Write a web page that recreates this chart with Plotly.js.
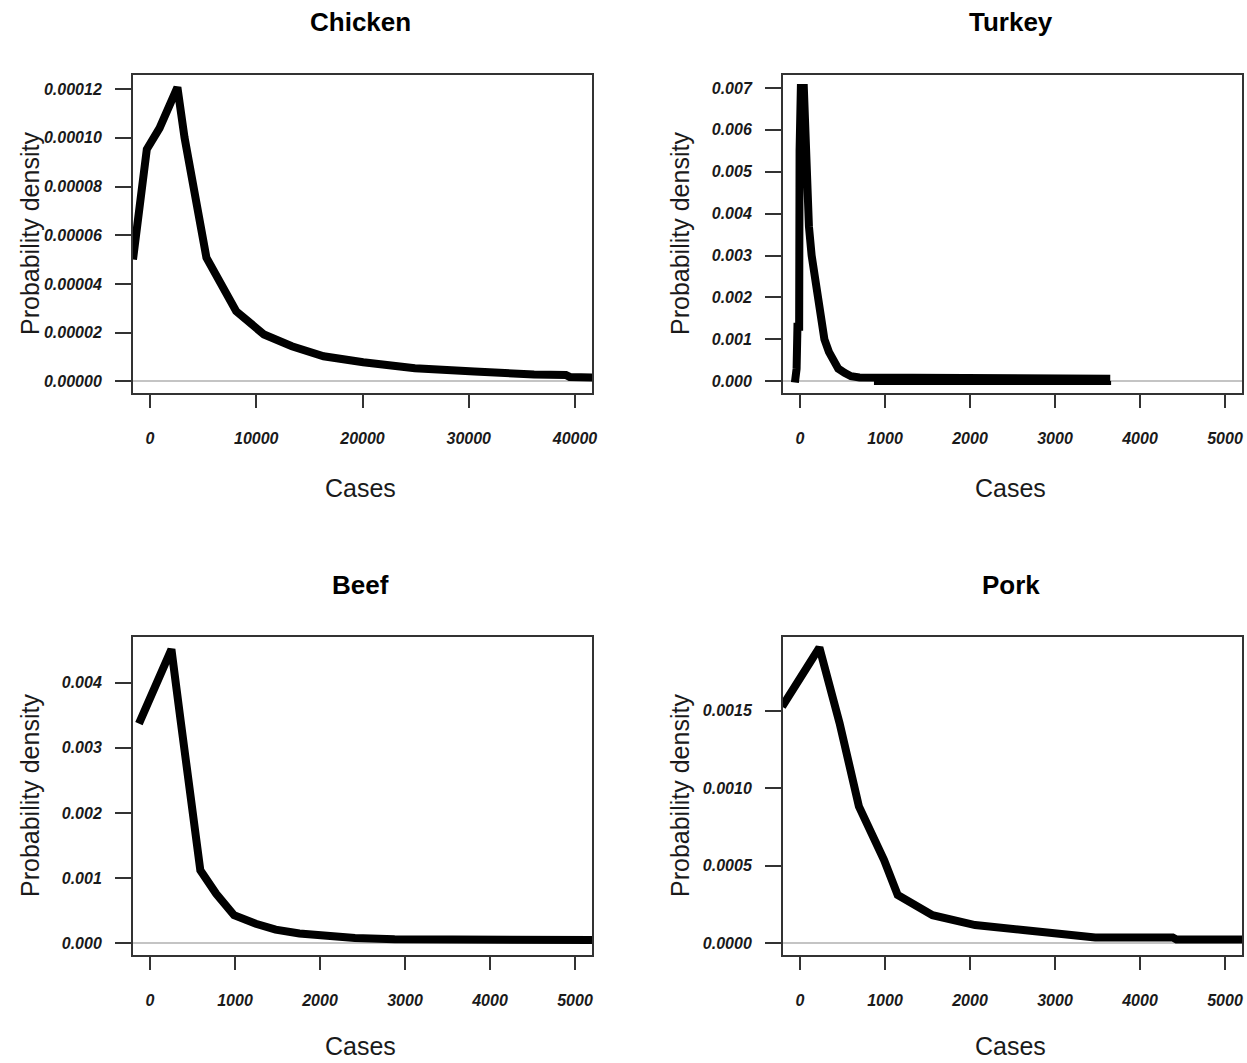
<!DOCTYPE html>
<html>
<head>
<meta charset="utf-8">
<script src="https://cdn.plot.ly/plotly-3.0.1.min.js"></script>
<style>
  html, body { margin: 0; padding: 0; background: #ffffff; }
  #chart { width: 1247px; height: 1063px; }
</style>
</head>
<body>
<div id="chart"></div>
<script>
// ---- Data ----
const panelTitles = ["Chicken", "Turkey", "Beef", "Pork"];
const xAxisLabel = "Cases";
const yAxisLabel = "Probability density";

const chickenX = [-1600, -300, 900, 2580, 3250, 5310, 8110, 10730, 13350, 16340, 20070, 24930, 30540, 33500, 36150, 39140, 39500, 41760];
const chickenY = [0.0000500, 0.0000953, 0.0001040, 0.0001207, 0.0001001, 0.0000508, 0.0000288, 0.0000192, 0.0000144, 0.0000103, 0.0000078, 0.0000054, 0.0000040, 0.0000032, 0.0000028, 0.0000026, 0.0000018, 0.0000016];

const turkeyX = [-60, -40, -30, -10, -5, 10, 45, 60, 85, 105, 137, 170, 205, 250, 287, 340, 387, 450, 524, 600, 700, 900, 950, 1200, 2000, 3000, 3650];
const turkeyY = [-0.00003, 0.0003, 0.0013, 0.0013, 0.0055, 0.0070, 0.0070, 0.0058, 0.0046, 0.0037, 0.0030, 0.0025, 0.0020, 0.0014, 0.0010, 0.0007, 0.0005, 0.0003, 0.0002, 0.00012, 0.00009, 0.00009, 0.00006, 0.00006, 0.00006, 0.00006, 0.00006];
const turkeyTailX = [870, 3660];
const turkeyTailY = [-0.00004, -0.00004];

const beefX = [-130, 252, 359, 499, 592, 779, 989, 1245, 1478, 1758, 2038, 2411, 2878, 3811, 3850, 5200];
const beefY = [0.00337, 0.00451, 0.00343, 0.00209, 0.00112, 0.00076, 0.00043, 0.00030, 0.00021, 0.00015, 0.00011, 0.00008, 0.00006, 0.00006, 0.00005, 0.00005];

const porkX = [-210, 228, 465, 693, 989, 1149, 1559, 2060, 2653, 3245, 3473, 4385, 4430, 5205];
const porkY = [0.001526, 0.001908, 0.001422, 0.000883, 0.000537, 0.000311, 0.000181, 0.000117, 0.000084, 0.000052, 0.000037, 0.000037, 0.000024, 0.000024];

const chickenXTicks = [0, 10000, 20000, 30000, 40000];
const smallXTicks = [0, 1000, 2000, 3000, 4000, 5000];

// ---- Styling ----
const FONT = "Liberation Sans, Arial, sans-serif";
const W = 1247, H = 1063;
const px = v => v / W;
const py = v => 1 - v / H;

const lineStyle = { color: "#000000", width: 8 };

const traces = [
  { x: chickenX, y: chickenY, xaxis: "x", yaxis: "y", mode: "lines", line: lineStyle, hoverinfo: "skip" },
  { x: turkeyX, y: turkeyY, xaxis: "x2", yaxis: "y2", mode: "lines", line: { color: "#000", width: 8 }, hoverinfo: "skip" },
  { x: turkeyTailX, y: turkeyTailY, xaxis: "x2", yaxis: "y2", mode: "lines", line: { color: "#000", width: 4 }, hoverinfo: "skip" },
  { x: beefX, y: beefY, xaxis: "x3", yaxis: "y3", mode: "lines", line: lineStyle, hoverinfo: "skip" },
  { x: porkX, y: porkY, xaxis: "x4", yaxis: "y4", mode: "lines", line: lineStyle, hoverinfo: "skip" }
];

const tickFont = { family: FONT, size: 16, color: "#1a1a1a", weight: "bold", style: "italic" };

function xAxis(domain, range, ticks, anchor) {
  return {
    domain: domain, range: range, anchor: anchor,
    tickmode: "array", tickvals: ticks, ticktext: ticks.map(String),
    ticks: "outside", ticklen: 13, tickwidth: 2, tickcolor: "#333",
    ticklabelstandoff: 17,
    showline: true, mirror: true, linecolor: "#333", linewidth: 2,
    showgrid: false, zeroline: false, tickfont: tickFont, fixedrange: true
  };
}
function yAxis(domain, range, dtick, fmt, anchor) {
  return {
    domain: domain, range: range, anchor: anchor,
    tick0: 0, dtick: dtick, tickformat: fmt,
    ticks: "outside", ticklen: 16, tickwidth: 2, tickcolor: "#333",
    ticklabelstandoff: 10,
    showline: true, mirror: true, linecolor: "#333", linewidth: 2,
    showgrid: false, zeroline: true, zerolinecolor: "#c4c4c4", zerolinewidth: 2,
    tickfont: tickFont, fixedrange: true
  };
}

const leftX = [px(133), px(592)];
const rightX = [px(783), px(1242)];
const topY = [py(393), py(75)];
const botY = [py(955), py(637)];

const layout = {
  width: W, height: H,
  margin: { l: 0, r: 0, t: 0, b: 0 },
  paper_bgcolor: "#ffffff", plot_bgcolor: "#ffffff",
  showlegend: false,
  xaxis: xAxis(leftX, [-1600, 41600], chickenXTicks, "y"),
  yaxis: yAxis(topY, [-0.0000048, 0.0001258], 0.00002, ".5f", "x"),
  xaxis2: xAxis(rightX, [-200, 5200], smallXTicks, "y2"),
  yaxis2: yAxis(topY, [-0.00028, 0.00731], 0.001, ".3f", "x2"),
  xaxis3: xAxis(leftX, [-200, 5200], smallXTicks, "y3"),
  yaxis3: yAxis(botY, [-0.00018, 0.0047], 0.001, ".3f", "x3"),
  xaxis4: xAxis(rightX, [-200, 5200], smallXTicks, "y4"),
  yaxis4: yAxis(botY, [-0.000076, 0.001976], 0.0005, ".4f", "x4"),
  annotations: []
};

const centers = [
  { cx: 360, ty: 22, xy: 488, yx: 30, cy: 234 },
  { cx: 1011, ty: 22, xy: 488, yx: 680, cy: 234 },
  { cx: 360, ty: 585, xy: 1046, yx: 30, cy: 796 },
  { cx: 1011, ty: 585, xy: 1046, yx: 680, cy: 796 }
];

centers.forEach((c, i) => {
  layout.annotations.push({
    text: panelTitles[i], xref: "paper", yref: "paper",
    x: px(c.cx), y: py(c.ty), xanchor: "center", yanchor: "middle",
    showarrow: false, font: { family: FONT, size: 26, color: "#000", weight: "bold" }
  });
  layout.annotations.push({
    text: xAxisLabel, xref: "paper", yref: "paper",
    x: px(c.cx), y: py(c.xy), xanchor: "center", yanchor: "middle",
    showarrow: false, font: { family: FONT, size: 25, color: "#1a1a1a" }
  });
  layout.annotations.push({
    text: yAxisLabel, xref: "paper", yref: "paper", textangle: -90,
    x: px(c.yx), y: py(c.cy), xanchor: "center", yanchor: "middle",
    showarrow: false, font: { family: FONT, size: 25, color: "#1a1a1a" }
  });
});

Plotly.newPlot("chart", traces, layout, { staticPlot: true, displayModeBar: false });
</script>
</body>
</html>
